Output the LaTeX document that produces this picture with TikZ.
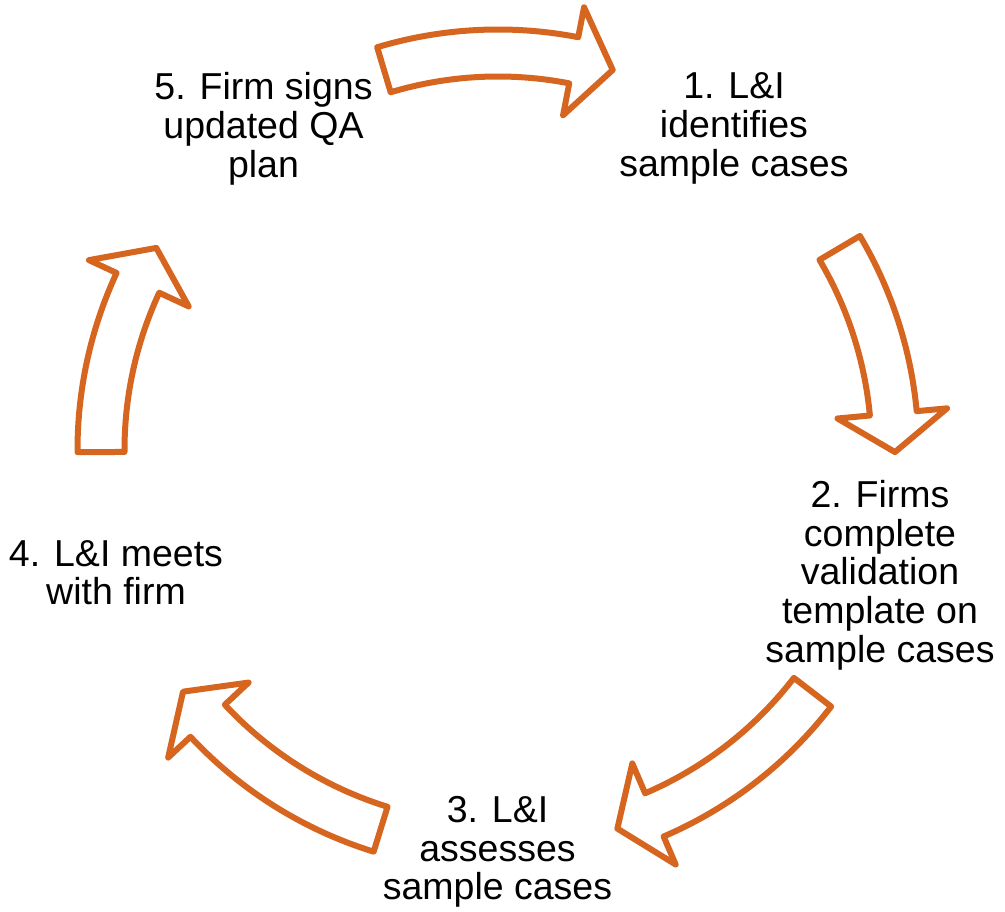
\documentclass[tikz,border=0pt]{standalone}
\usepackage{fontspec}
\setmainfont{Liberation Sans}
\definecolor{arrowc}{RGB}{214,101,31}
\newcommand\cyclearrow[3]{%
  \draw[cyc] (#1:420.5pt) arc[start angle=#1,end angle=#2,radius=420.5pt]
    -- (#2:451pt) -- (#3:397pt) -- (#2:341pt) -- (#2:373.5pt)
    arc[start angle=#2,end angle=#1,radius=373.5pt] -- cycle;}
\begin{document}
\begin{tikzpicture}[x=1pt,y=1pt,
  cyc/.style={draw=arrowc, line width=6pt, line join=round, fill=white},
  lbl/.style={align=center, inner sep=0pt, anchor=north,
    font=\fontsize{37.5}{38.8}\selectfont}]
\useasboundingbox (-498,-462) rectangle (507,450);
% arrows (tail angle, head base angle, tip angle)
\cyclearrow{106.7}{79}{73.2}
\cyclearrow{30.6}{5.3}{-0.3}
\cyclearrow{-37.6}{-66.8}{-72.5}
\cyclearrow{-107.2}{-137}{-142.5}
\cyclearrow{180.3}{155.1}{149.4}
% labels
\node[lbl] (n1) at (236,377.7) {1. L\&I\\identifies\\sample cases};
\node[lbl] (n2) at (382,-30) {2. Firms\\complete\\validation\\template on\\sample cases};
\node[lbl] (n3) at (-0.5,-346) {3. L\&I\\assesses\\sample cases};
\node[lbl] (n4) at (-382,-90) {4. L\&I meets\\with firm};
\node[lbl] (n5) at (-234.5,377.7) {5. Firm signs\\updated QA\\plan};
\end{tikzpicture}
\end{document}
